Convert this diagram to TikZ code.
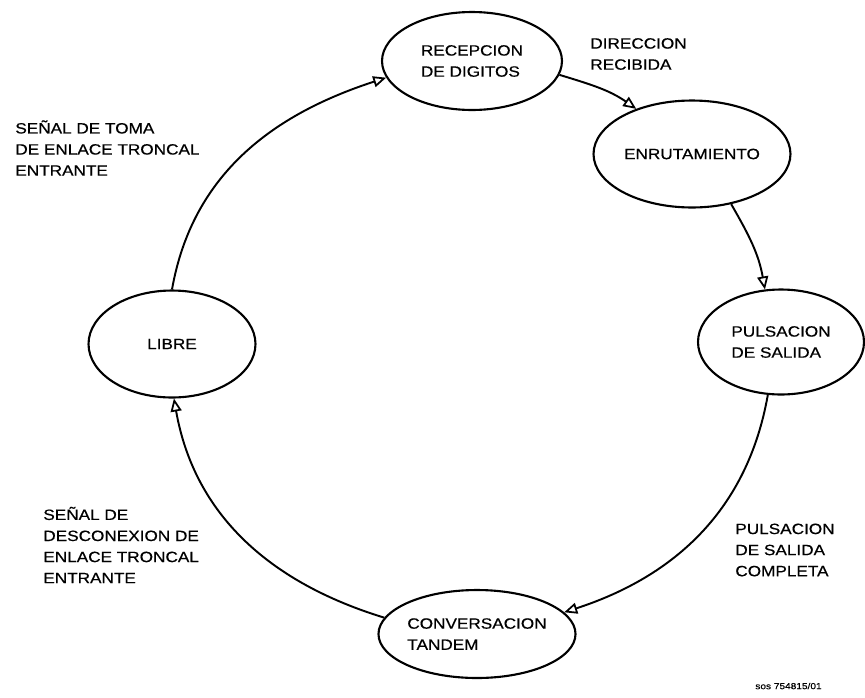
\documentclass[tikz,border=0pt]{standalone}
\usepackage{fontspec}
\setmainfont{Liberation Sans}[FakeStretch=1.15,FakeBold=0.6]
\usetikzlibrary{shapes.geometric,arrows.meta}
\begin{document}
\begin{tikzpicture}[x=0.02cm,y=-0.02cm,
  every node/.style={font=\fontsize{8.5pt}{12pt}\selectfont},
  state/.style={draw,ellipse,line width=1.2pt,inner sep=0pt,align=left},
  caption/.style={anchor=west,align=left,inner sep=0pt},
  flow/.style={line width=1.1pt,-{Triangle[open,length=0.26cm,width=0.22cm,line width=1pt]}}]
\useasboundingbox (0,0) rectangle (865,697);

% states
\node[state,minimum width=3.6cm,minimum height=1.96cm] (rec) at (472,61) {RECEPCION\\DE DIGITOS};
\node[state,minimum width=3.94cm,minimum height=2.14cm] (enr) at (692,154) {ENRUTAMIENTO};
\node[state,minimum width=3.32cm,minimum height=2.1cm] (pul) at (781,342) {PULSACION\\DE SALIDA};
\node[state,minimum width=3.54cm,minimum height=1.76cm] (conv) at (477,634) {CONVERSACION\\TANDEM};
\node[state,minimum width=3.34cm,minimum height=2.14cm] (lib) at (172,344) {LIBRE};

% transitions
\draw[flow] (lib.north) to[out=80,in=198] (rec.191);
\draw[flow] (rec.-9) to[out=-17,in=145] (enr.141);
\draw[flow] (enr.-52) to[out=-60,in=100] (pul.107);
\draw[flow] (pul.256) to[out=-100,in=18] (conv.14);
\draw[flow] (conv.170) to[out=163,in=-80] (lib.-88);

% event labels
\node[caption] (t1) at (15,148) {SEÑAL DE TOMA\\DE ENLACE TRONCAL\\ENTRANTE};
\node[caption] (t2) at (590,54) {DIRECCION\\RECIBIDA};
\node[caption] (t3) at (735,550) {PULSACION\\DE SALIDA\\COMPLETA};
\node[caption] (t4) at (43,545) {SEÑAL DE\\DESCONEXION DE\\ENLACE TRONCAL\\ENTRANTE};

% figure reference
\node[caption,font=\fontsize{5pt}{6pt}\selectfont] (ref) at (755,686) {sos 754815/01};
\end{tikzpicture}
\end{document}
